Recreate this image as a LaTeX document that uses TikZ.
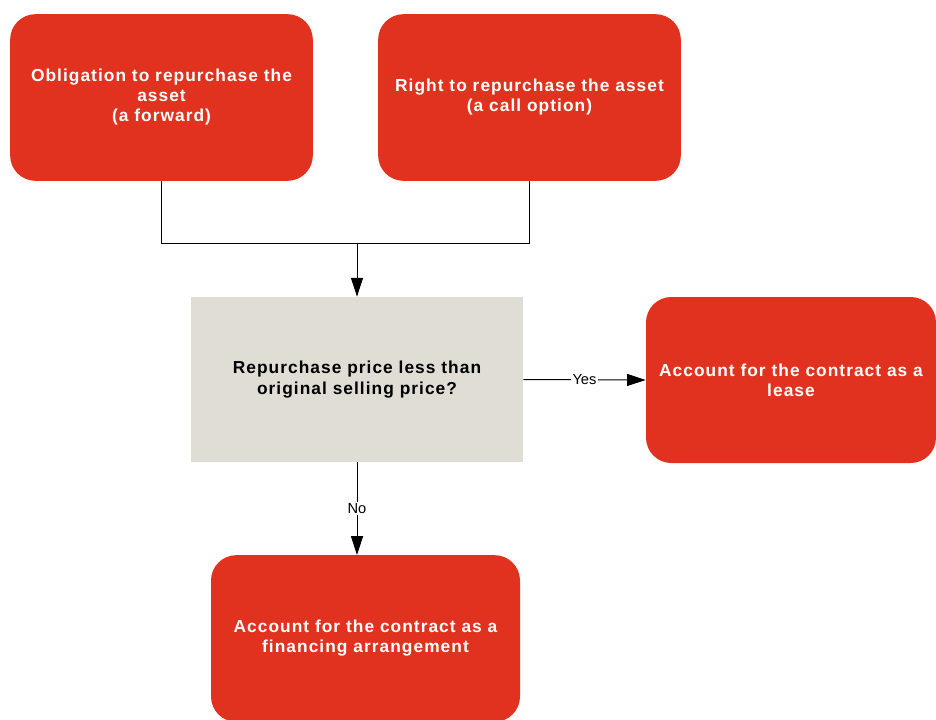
\documentclass[tikz,border=0pt]{standalone}
\usepackage{fontspec}
\setmainfont{Liberation Sans}
\newfontfamily\boxfont[LetterSpace=6]{Liberation Sans}
\usetikzlibrary{arrows.meta}
\definecolor{boxred}{RGB}{224,50,30}
\definecolor{boxgrey}{RGB}{224,221,213}
\tikzset{
  redbox/.style={fill=boxred, rounded corners=19pt, minimum width=227pt,
    minimum height=125pt, text=white, align=center, inner sep=0pt,
    font=\boxfont\bfseries\fontsize{13}{15}\selectfont},
  greybox/.style={fill=boxgrey, minimum width=249pt, minimum height=124pt,
    align=center, inner sep=0pt, font=\boxfont\bfseries\fontsize{13}{15.5}\selectfont},
  arr/.style={-{Triangle[length=14pt,width=9pt]}, line width=0.75pt},
  lbl/.style={fill=white, inner sep=1pt, font=\fontsize{11}{13}\selectfont}
}
\begin{document}
\begin{tikzpicture}[x=0.75pt,y=-0.75pt]
\useasboundingbox (0,0) rectangle (936,719);
% top boxes
\node[redbox] (oblig) at (161.5,97.5) {Obligation to repurchase the\\asset\\(a forward)};
\node[redbox] (right) at (529.5,97.5) {Right to repurchase the asset\\(a call option)};
% question
\node[greybox] (price) at (357,379.5) {Repurchase price less than\\original selling price?};
% outcomes
\node[redbox, minimum width=217.5pt, minimum height=124.5pt] (lease) at (791,380) {Account for the contract as a\\lease};
\node[redbox, minimum width=231.75pt, minimum height=125pt] (finance) at (365.5,638.5) {Account for the contract as a\\financing arrangement};
\coordinate (join) at (357,243);
\path[draw,line width=0.75pt] (oblig.south) |- (join);
\path[draw,line width=0.75pt] (right.south) |- (join);
\path[draw,arr] (join) -- (price.north);
\path[draw,arr] (price.east) -- node[lbl] {Yes} (lease.west);
\path[draw,arr] (price.south) -- node[lbl] {No} (price.south |- finance.north);
\end{tikzpicture}
\end{document}
